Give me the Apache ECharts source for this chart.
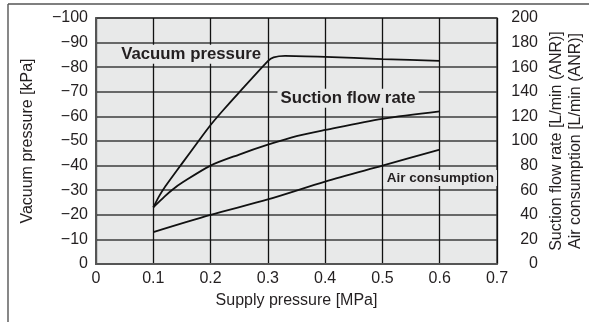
<!DOCTYPE html>
<html>
<head>
<meta charset="utf-8">
<script src="https://cdn.jsdelivr.net/npm/echarts@6/dist/echarts.min.js"></script>
<style>
html,body{margin:0;padding:0;background:#fff;}
#c{width:594px;height:322px;}
</style>
</head>
<body>
<div id="c"></div>
<script>
// Supply pressure [MPa] and values
const vacuumX = [0.1, 0.11, 0.12, 0.15, 0.18, 0.2, 0.22, 0.25, 0.3, 0.31, 0.33, 0.4, 0.5, 0.6];
const vacuumKPa = [-23, -27.5, -31.2, -40.8, -50.3, -56.5, -62, -69.8, -82.5, -84, -84.6, -84.2, -83.3, -82.6];

const suctionX = [0.1, 0.12, 0.135, 0.15, 0.2, 0.25, 0.3, 0.35, 0.4, 0.5, 0.6];
const suctionLmin = [46, 55, 61, 66, 80, 89, 97, 104, 109, 118, 124];

const airX = [0.1, 0.2, 0.3, 0.4, 0.5, 0.6];
const airLmin = [26, 40, 52.5, 67, 80, 93];

const curveNames = ['Vacuum pressure', 'Suction flow rate', 'Air consumption'];
const xAxisName = 'Supply pressure [MPa]';
const leftAxisName = 'Vacuum pressure [kPa]';
const rightAxisName1 = 'Suction flow rate [L/min (ANR)]';
const rightAxisName2 = 'Air consumption [L/min (ANR)]';

const FONT = '"Liberation Sans", Arial, Helvetica, sans-serif';
const TXT = '#231f20';
const PLOTBG = '#e8e9e9';

function pairs(xs, ys){ return xs.map((x,i)=>[x, ys[i]]); }

const chart = echarts.init(document.getElementById('c'), null, {renderer:'canvas'});
const lineStyle = {color:'#111', width:1.8};
chart.setOption({
  animation:false,
  backgroundColor:'#fff',
  textStyle:{fontFamily:FONT, color:TXT},
  grid:{left:96, right:97, top:18, bottom:58, show:true, backgroundColor:PLOTBG, borderColor:'#444', borderWidth:1.5},
  xAxis:{
    type:'value', min:0, max:0.7, interval:0.1,
    name:xAxisName, nameLocation:'middle', nameGap:29,
    nameTextStyle:{fontSize:16, color:TXT, fontFamily:FONT},
    axisLine:{show:true, lineStyle:{color:'#555', width:2}},
    axisTick:{show:false},
    axisLabel:{fontSize:16, color:TXT, margin:7, fontFamily:FONT,
      formatter:v=> v===0 ? '0' : v.toFixed(1)},
    splitLine:{show:true, lineStyle:{color:'#111', width:1.3}}
  },
  yAxis:[{
    type:'value', min:-100, max:0, interval:10, inverse:true, position:'left',
    name:leftAxisName, nameLocation:'middle', nameGap:60, nameRotate:90,
    nameTextStyle:{fontSize:16, color:TXT, fontFamily:FONT},
    axisLine:{show:true, lineStyle:{color:'#555', width:2}},
    axisTick:{show:false},
    axisLabel:{fontSize:16, color:TXT, margin:8, fontFamily:FONT,
      formatter:v=> v<0 ? '\u2212'+(-v) : String(v)},
    splitLine:{show:true, lineStyle:{color:'#3c3c3c', width:1.5}}
  },{
    type:'value', min:0, max:200, interval:20, position:'right',
    name:rightAxisName1, nameLocation:'middle', nameGap:52, nameRotate:90,
    nameTextStyle:{fontSize:16, color:TXT, fontFamily:FONT},
    axisLine:{show:false}, axisTick:{show:false},
    axisLabel:{fontSize:16, color:TXT, margin:41, align:'right', fontFamily:FONT},
    splitLine:{show:false}
  },{
    type:'value', min:0, max:200, interval:20, position:'right',
    name:rightAxisName2, nameLocation:'middle', nameGap:71, nameRotate:90,
    nameTextStyle:{fontSize:16, color:TXT, fontFamily:FONT},
    axisLine:{show:false}, axisTick:{show:false}, axisLabel:{show:false},
    splitLine:{show:false}
  }],
  series:[
    {name:curveNames[0], type:'line', yAxisIndex:0, data:pairs(vacuumX, vacuumKPa),
     showSymbol:false, smooth:0.2, lineStyle:lineStyle, z:5},
    {name:curveNames[1], type:'line', yAxisIndex:1, data:pairs(suctionX, suctionLmin),
     showSymbol:false, smooth:0.3, lineStyle:lineStyle, z:5},
    {name:curveNames[2], type:'line', yAxisIndex:2, data:pairs(airX, airLmin),
     showSymbol:false, smooth:0.3, lineStyle:lineStyle, z:5}
  ]
});

// Curve labels, placed through the axes' own scale
const labelAt = [[0.166, -85.3, 16.8], [0.44, -67.4, 16.8], [0.601, -35, 13.5]];
const elements = curveNames.map((t,i)=>{
  const p = chart.convertToPixel({xAxisIndex:0, yAxisIndex:0}, [labelAt[i][0], labelAt[i][1]]);
  return {
    type:'text', x:p[0], y:p[1], z:50,
    style:{text:t, fontSize:labelAt[i][2], fontWeight:'bold', fontFamily:FONT, fill:TXT,
      align:'center', verticalAlign:'middle', backgroundColor:PLOTBG, padding:[1,3]}
  };
});
elements.push({type:'line', shape:{x1:8, y1:4, x2:589, y2:4}, style:{stroke:'#555', lineWidth:1.4}, z:50});
elements.push({type:'line', shape:{x1:8, y1:4, x2:8, y2:322}, style:{stroke:'#555', lineWidth:1.4}, z:50});
chart.setOption({graphic:{elements:elements}});
</script>
</body>
</html>
